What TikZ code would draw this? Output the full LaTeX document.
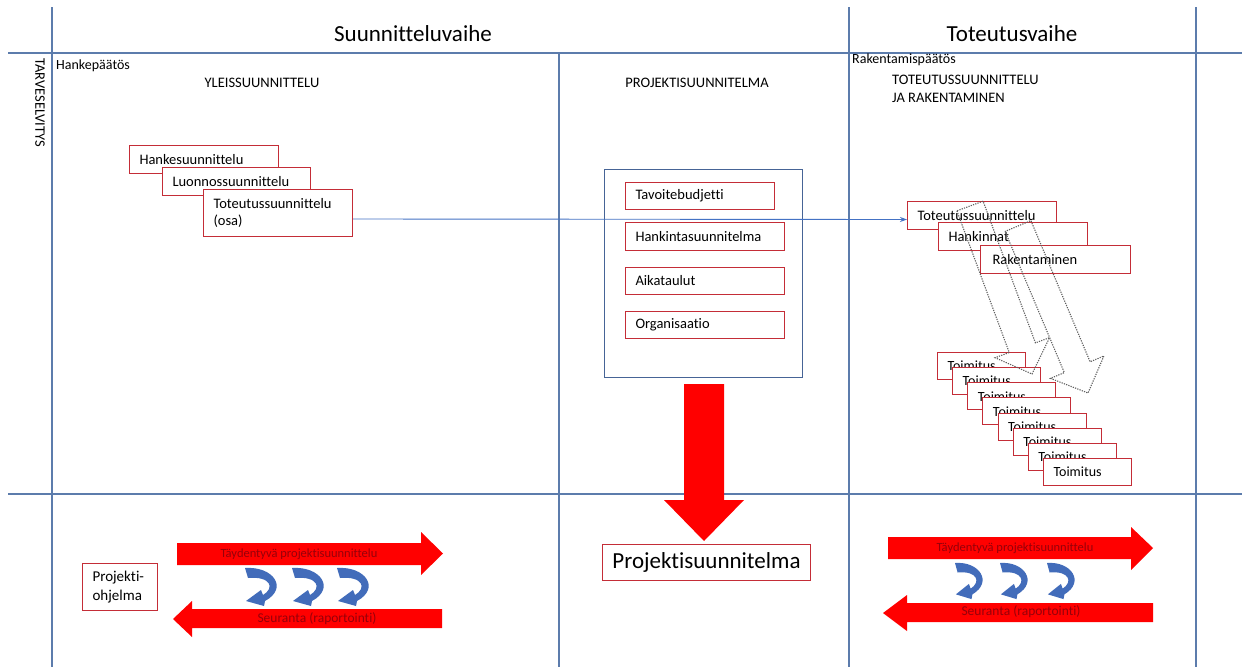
\documentclass[tikz,border=0pt]{standalone}
\usepackage{fontspec}
\setmainfont{Carlito}[Ligatures=NoCommon]
\usetikzlibrary{arrows.meta}
\definecolor{gridblue}{RGB}{92,124,172}
\definecolor{framblue}{RGB}{70,100,150}
\definecolor{boxred}{RGB}{196,45,55}
\definecolor{arrred}{RGB}{255,0,0}
\definecolor{arrtext}{RGB}{150,0,10}
\definecolor{turnblue}{RGB}{66,108,186}
\definecolor{linkblue}{RGB}{68,114,196}
\definecolor{dotgray}{RGB}{95,95,95}
\newcommand{\fs}[1]{\fontsize{#1}{28}\selectfont}
\tikzset{
  gridline/.style={draw=gridblue, line width=1.1pt},
  rbox/.style={draw=boxred, line width=1pt, fill=white, inner xsep=10pt,
    inner ysep=0pt, minimum height=28pt, anchor=north west, align=left,
    font=\fontsize{14.5}{17}\selectfont},
  tbox/.style={rbox, minimum height=27pt, text width=68pt, font=\fontsize{14}{16}\selectfont},
  label/.style={inner sep=0pt, font=\fontsize{14}{18}\selectfont},
  bigarrow/.style={fill=arrred, draw=none},
  arrlabel/.style={inner sep=0pt, text=arrtext},
  dotarrow/.style={draw=dotgray, line width=1.1pt, dash pattern=on 1.2pt off 1.2pt},
  uturn/.pic={
    \fill[turnblue] (0,0) .. controls (28,-2) and (44,20) .. (20,33)
      -- (19,38) -- (1,33) -- (16,22) -- (18,27)
      .. controls (30,20) and (26,8) .. (3,10) -- cycle;
  }
}
\begin{document}
\begin{tikzpicture}[x=1pt,y=-1pt]
\useasboundingbox[fill=white] (0,0) rectangle (1242,667);

% phase grid
\draw[gridline] (52,7) -- (52,667);
\draw[gridline] (849,7) -- (849,667);
\draw[gridline] (1196,7) -- (1196,667);
\draw[gridline] (559,53) -- (559,667);
\draw[gridline] (8,53) -- (1242,53);
\draw[gridline] (8,494) -- (1242,494);

% headings
\node[inner sep=0pt, font=\fs{23}] (plan) at (413,34) {Suunnitteluvaihe};
\node[inner sep=0pt, font=\fs{23}] (build) at (1012,34) {Toteutusvaihe};
\node[label, anchor=west] (hp) at (56,66) {Hankepäätös};
\node[label, font=\fontsize{14.5}{18}\selectfont] (yleis) at (262,83) {YLEISSUUNNITTELU};
\node[label, font=\fontsize{14.5}{18}\selectfont] (projs) at (697,83) {PROJEKTISUUNNITELMA};
\node[label, anchor=west] (rp) at (852,60) {Rakentamispäätös};
\node[label, anchor=north west, align=left, font=\fontsize{14.5}{18}\selectfont] (tr) at (892,75)
  {TOTEUTUSSUUNNITTELU\\JA RAKENTAMINEN};
\node[label, rotate=-90, anchor=west, font=\fontsize{14.5}{18}\selectfont] (tarve) at (40,58) {TARVESELVITYS};

% general planning boxes
\node[rbox, text width=129pt] (hs) at (129,145) {Hankesuunnittelu};
\node[rbox, text width=128pt] (ls) at (162,167) {Luonnossuunnittelu};
\node[rbox, text width=129pt, minimum height=47pt, font=\fontsize{14.5}{17.5}\selectfont] (tso) at (203,189)
  {Toteutussuunnittelu\\(osa)};

% project plan contents
\node[draw=framblue, line width=1pt, minimum width=198pt, minimum height=208pt,
      anchor=north west, inner sep=0pt] (frame) at (604,169) {};
\node[rbox, text width=129pt, minimum height=27pt] (tb) at (625,182) {Tavoitebudjetti};
\node[rbox, text width=139pt] (hk) at (625,222) {Hankintasuunnitelma};
\node[rbox, text width=139pt, minimum height=27pt] (ai) at (625,267) {Aikataulut};
\node[rbox, text width=139pt, minimum height=27pt] (or) at (625,311) {Organisaatio};

% implementation boxes
\node[rbox, text width=129pt] (ts) at (907,201) {Toteutussuunnittelu};
\node[rbox, text width=129pt] (ha) at (938,222) {Hankinnat};
\node[rbox, text width=126pt, inner xsep=12pt] (ra) at (980,245) {Rakentaminen};

% deliveries
\foreach \i in {0,...,7}{
  \node[tbox] (toim\i) at ({937+15.15*\i},{352+15.15*\i}) {Toimitus};
}

% dotted block arrows towards the deliveries
\draw[dotarrow] (956.9,210.8) -- (1009.2,352.5) -- (995.1,357.7) -- (1032,374)
  -- (1049.5,337.7) -- (1035.4,342.9) -- (983.1,201.2) -- cycle;
\draw[dotarrow] (1005.1,231.4) -- (1064.3,372.6) -- (1050.5,378.4) -- (1088,393)
  -- (1103.9,356.0) -- (1090.1,361.8) -- (1030.9,220.6) -- cycle;

% link from general planning to implementation
\draw[draw=linkblue, line width=0.9pt, -{Stealth[length=7pt,width=5pt]}]
  ([yshift=-6pt]tso.east) -- ([yshift=-4pt]ts.west);

% result of project planning
\node[draw=boxred, line width=1pt, fill=white, minimum width=208pt, minimum height=36pt,
      anchor=north west, inner sep=0pt, font=\fs{23}] (ps) at (602,544) {Projektisuunnitelma};
\fill[bigarrow] (684,384) -- (724,384) -- (724,500) -- (744,500) -- (704,541)
  -- (664,500) -- (684,500) -- cycle;

% programme box
\node[draw=boxred, line width=1pt, fill=white, minimum height=47pt, text width=55pt,
      inner xsep=10pt, inner ysep=0pt, anchor=north west, align=left,
      font=\fontsize{15}{19}\selectfont] (po) at (82,563) {Projekti-\\ohjelma};

% planning phase feedback loop
\fill[bigarrow] (177,543) -- (421,543) -- (421,532) -- (443,553.5) -- (421,575)
  -- (421,565) -- (177,565) -- cycle;
\node[arrlabel, font=\fontsize{12.5}{15}\selectfont] (tp1) at (299,554) {Täydentyvä projektisuunnittelu};
\fill[bigarrow] (442,609) -- (192,609) -- (192,601) -- (173,619) -- (192,637)
  -- (192,628) -- (442,628) -- cycle;
\node[arrlabel, font=\fontsize{13.5}{16}\selectfont] (se1) at (317,619) {Seuranta (raportointi)};
\pic at (245,568) {uturn};
\pic at (292,568) {uturn};
\pic at (337,568) {uturn};

% implementation phase feedback loop
\fill[bigarrow] (888,537) -- (1131,537) -- (1131,527) -- (1153,548) -- (1131,570)
  -- (1131,559) -- (888,559) -- cycle;
\node[arrlabel, font=\fontsize{12.5}{15}\selectfont] (tp2) at (1015,548) {Täydentyvä projektisuunnittelu};
\fill[bigarrow] (1153,603) -- (907,603) -- (907,595) -- (883,613) -- (907,631)
  -- (907,622) -- (1153,622) -- cycle;
\node[arrlabel, font=\fontsize{13.5}{16}\selectfont] (se2) at (1021,612) {Seuranta (raportointi)};
\pic[xscale=0.87, yscale=0.95] at (955,563) {uturn};
\pic[xscale=0.87, yscale=0.95] at (1000,563) {uturn};
\pic[xscale=0.87, yscale=0.95] at (1047,563) {uturn};
\end{tikzpicture}
\end{document}
